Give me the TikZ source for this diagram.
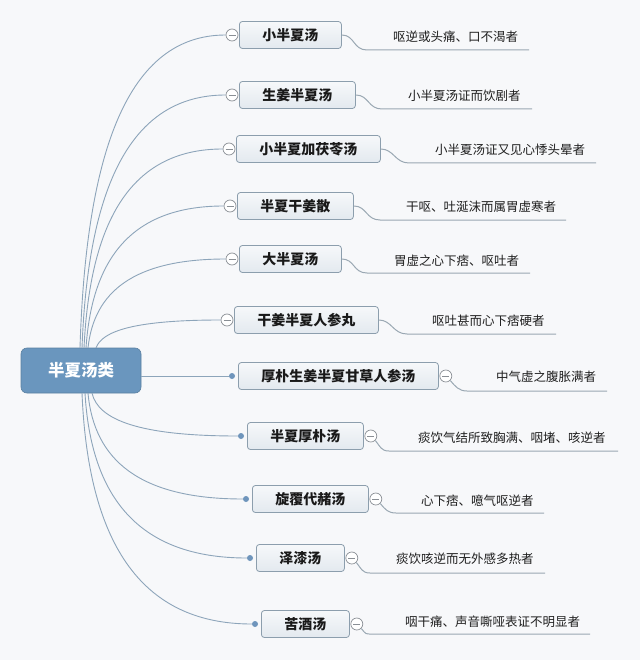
\documentclass[tikz,border=0pt]{standalone}
\usepackage{fontspec}
\setmainfont{Noto Sans CJK SC}
\usetikzlibrary{calc}
\definecolor{bg}{HTML}{F7F8FA}
\definecolor{rootc}{HTML}{6A96BE}
\definecolor{boxline}{HTML}{8C9EAD}
\definecolor{boxtop}{HTML}{F6F8FA}
\definecolor{boxbot}{HTML}{E3E9EF}
\definecolor{linkc}{HTML}{8DA5BA}
\definecolor{subc}{HTML}{9AA8B3}
\definecolor{dotc}{HTML}{6F95BC}
\definecolor{markc}{HTML}{8A8F95}
\tikzset{
 topic/.style={draw=boxline, line width=0.8pt, rounded corners=3pt, top color=boxtop, bottom color=boxbot, minimum height=27pt, inner xsep=23pt, inner ysep=0pt, font=\fontsize{14}{14}\selectfont\bfseries, text=black!90, anchor=west},
 rootbox/.style={fill=rootc, draw=rootc!85!black, line width=0.6pt, rounded corners=6pt, minimum width=120pt, minimum height=45pt, text=white, font=\fontsize{16.5}{16.5}\selectfont\bfseries},
 fold/.style={circle, draw=markc, fill=white, line width=0.7pt, minimum size=12pt, inner sep=0pt, path picture={\draw[markc, line width=0.8pt] ([xshift=2.5pt]path picture bounding box.west) -- ([xshift=-2.5pt]path picture bounding box.east);}},
 leafdot/.style={circle, fill=dotc, minimum size=6pt, inner sep=0pt},
 mainlink/.style={draw=linkc, line width=0.9pt},
 sublink/.style={draw=subc, line width=1pt},
 desc/.style={anchor=west, font=\fontsize{12.5}{12.5}\selectfont, text=black!88, inner sep=0pt},
}
\newcommand\fanlink[2]{\draw[mainlink] let \p1=(#1), \p2=(#2.west) in (\p1) .. controls (\x1+6pt,{\y1+0.63*(\y2-\y1)}) and ({\x1+0.33*(\x2-\x1)},\y2) .. (\p2);}
\begin{document}
\begin{tikzpicture}[x=1pt,y=-1pt]
\fill[bg] (0,0) rectangle (640,660);
\useasboundingbox (0,0) rectangle (640,660);
% root
\node[rootbox] (root) at (81,370.5) {半夏汤类};
% topics
\node[topic] (b1) at (239,35) {小半夏汤};
\node[topic] (b2) at (239,95) {生姜半夏汤};
\node[topic] (b3) at (236,149) {小半夏加茯苓汤};
\node[topic] (b4) at (237,206) {半夏干姜散};
\node[topic] (b5) at (239,259) {大半夏汤};
\node[topic] (b6) at (234,320) {干姜半夏人参丸};
\node[topic] (b7) at (238,376) {厚朴生姜半夏甘草人参汤};
\node[topic] (b8) at (247,436) {半夏厚朴汤};
\node[topic] (b9) at (252,499) {旋覆代赭汤};
\node[topic] (b10) at (256,558) {泽漆汤};
\node[topic] (b11) at (261,624) {苦酒汤};
% left markers
\node[fold] (m1) at ($(b1.west)+(-7,0)$) {};
\node[fold] (m2) at ($(b2.west)+(-7,0)$) {};
\node[fold] (m3) at ($(b3.west)+(-7,0)$) {};
\node[fold] (m4) at ($(b4.west)+(-7,0)$) {};
\node[fold] (m5) at ($(b5.west)+(-7,0)$) {};
\node[fold] (m6) at ($(b6.west)+(-7,0)$) {};
\node[leafdot] (d7) at ($(b7.west)+(-6,0)$) {};
\node[leafdot] (d8) at ($(b8.west)+(-6,0)$) {};
\node[leafdot] (d9) at ($(b9.west)+(-6,0)$) {};
\node[leafdot] (d10) at ($(b10.west)+(-6,0)$) {};
\node[leafdot] (d11) at ($(b11.west)+(-6,0)$) {};
% right markers
\node[fold] (r7) at ($(b7.east)+(7,0)$) {};
\node[fold] (r8) at ($(b8.east)+(7,0)$) {};
\node[fold] (r9) at ($(b9.east)+(7,0)$) {};
\node[fold] (r10) at ($(b10.east)+(7,0)$) {};
\node[fold] (r11) at ($(b11.east)+(7,0)$) {};
% start points on root
\coordinate (s1) at (80,348);
\coordinate (s2) at (82,348);
\coordinate (s3) at (84,348);
\coordinate (s4) at (86,348);
\coordinate (s5) at (88,348);
\coordinate (s6) at (96,348);
\coordinate (s8) at (92,393);
\coordinate (s9) at (88,393);
\coordinate (s10) at (85,393);
\coordinate (s11) at (82,393);
\fanlink{s1}{m1}
\fanlink{s2}{m2}
\fanlink{s3}{m3}
\fanlink{s4}{m4}
\fanlink{s5}{m5}
\fanlink{s6}{m6}
\draw[mainlink] (root.east |- d7) -- (d7);
\fanlink{s8}{d8}
\fanlink{s9}{d9}
\fanlink{s10}{d10}
\fanlink{s11}{d11}
% descriptions
\node[desc] (t1) at (393,37) {呕逆或头痛、口不渴者};
\node[desc] (t2) at (408,96) {小半夏汤证而饮剧者};
\node[desc] (t3) at (435,150) {小半夏汤证又见心悸头晕者};
\node[desc] (t4) at (406,207) {干呕、吐涎沫而属胃虚寒者};
\node[desc] (t5) at (394,261) {胃虚之心下痞、呕吐者};
\node[desc] (t6) at (432,321) {呕吐甚而心下痞硬者};
\node[desc] (t7) at (496,377) {中气虚之腹胀满者};
\node[desc] (t8) at (418,438) {痰饮气结所致胸满、咽堵、咳逆者};
\node[desc] (t9) at (421,501) {心下痞、噫气呕逆者};
\node[desc] (t10) at (396,559) {痰饮咳逆而无外感多热者};
\node[desc] (t11) at (405,622) {咽干痛、声音嘶哑表证不明显者};
% underline ends
\coordinate (u1) at (367,50);  \coordinate (v1) at (529,50);
\coordinate (u2) at (382,109); \coordinate (v2) at (532,109);
\coordinate (u3) at (409,163); \coordinate (v3) at (596,163);
\coordinate (u4) at (380,220); \coordinate (v4) at (566,220);
\coordinate (u5) at (367,273); \coordinate (v5) at (530,273);
\coordinate (u6) at (407,334); \coordinate (v6) at (556,334);
\coordinate (u7) at (467,391); \coordinate (v7) at (607,391);
\coordinate (u8) at (389,451); \coordinate (v8) at (618,451);
\coordinate (u9) at (396,513); \coordinate (v9) at (544,513);
\coordinate (u10) at (370,573); \coordinate (v10) at (545,573);
\coordinate (u11) at (373,634); \coordinate (v11) at (590,634);
\foreach \i in {1,...,6}{\draw[sublink] (b\i.east) .. controls +(13,0) and +(-14,0) .. (u\i) -- (v\i);}
\foreach \i in {7,...,11}{\draw[sublink] (r\i.-45) .. controls +(5,6) and +(-8,0) .. (u\i) -- (v\i);}
\end{tikzpicture}
\end{document}
